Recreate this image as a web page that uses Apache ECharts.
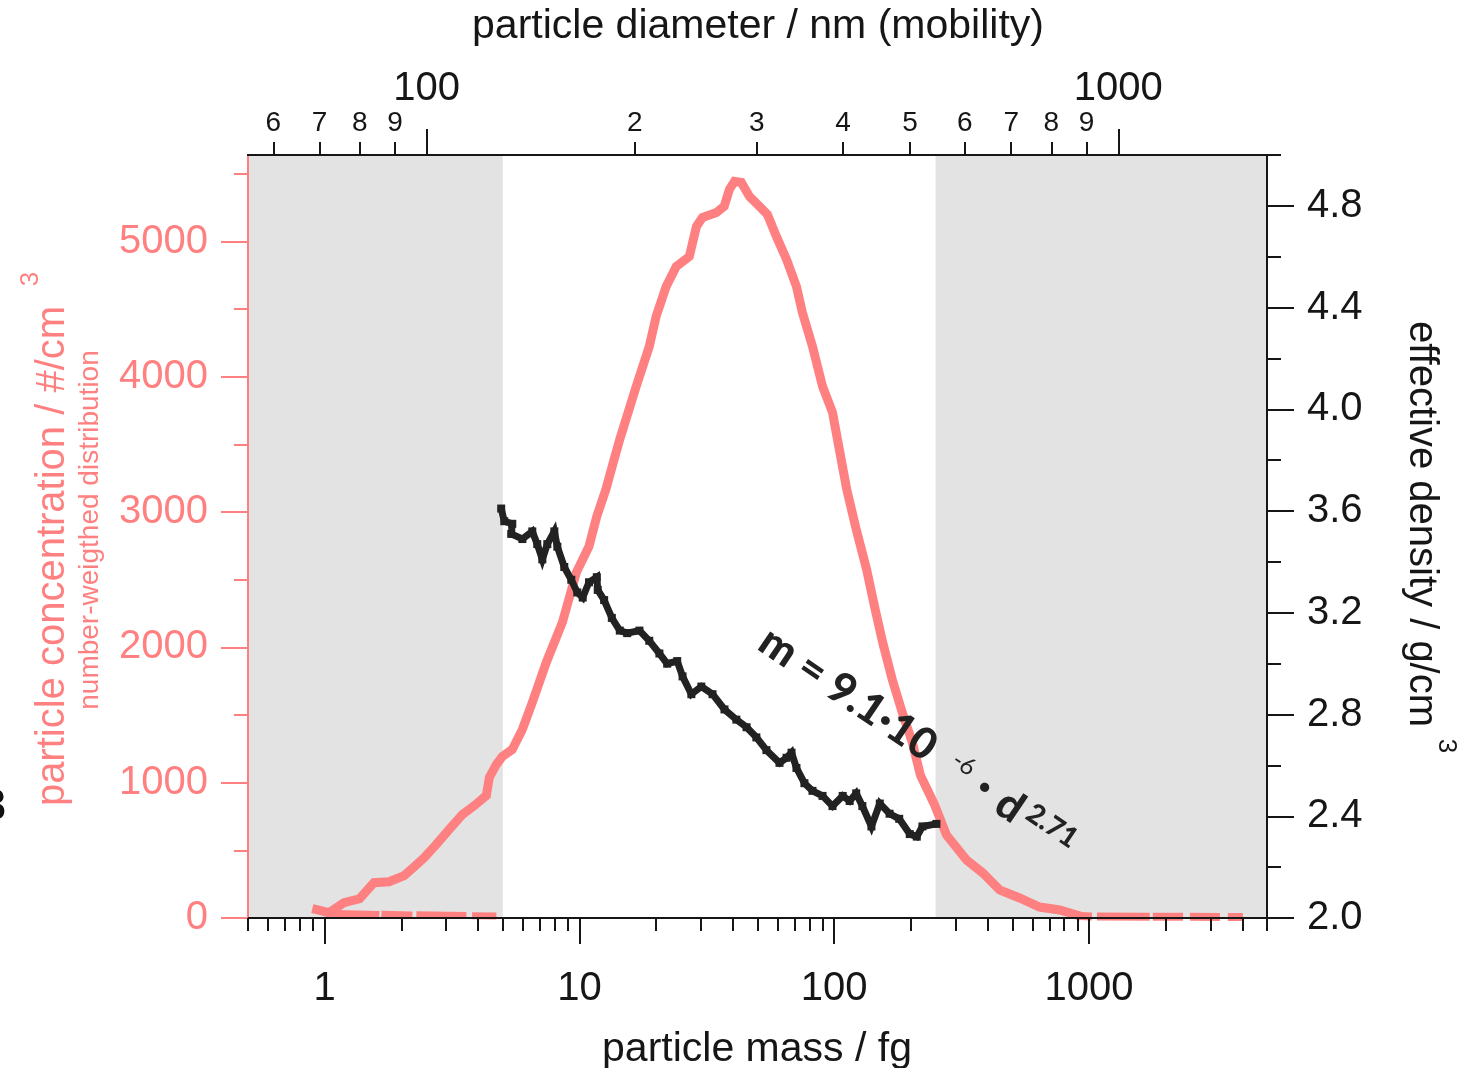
<!DOCTYPE html>
<html><head><meta charset="utf-8">
<script src="https://cdn.jsdelivr.net/npm/echarts@6/dist/echarts.min.js"></script>
<style>html,body{margin:0;padding:0;background:#fff}#c{width:1460px;height:1068px}</style>
</head><body><div id="c"></div>
<script>
// ---- axis ranges / ticks ----
const massRange = [0.5, 5000];            // fg (bottom axis)
const diamRange = [55.16, 1640.6];        // nm (top axis)
const concRange = [0, 5640];              // #/cm3 (left axis)
const densRange = [2.0, 5.0];             // g/cm3 (right axis)

const massMajorTicks = [1, 10, 100, 1000];
const massMinorTicks = [0.5,0.6,0.7,0.8,0.9, 2,3,4,5,6,7,8,9, 20,30,40,50,60,70,80,90, 200,300,400,500,600,700,800,900, 2000,3000,4000,5000];
const diamMajorTicks = [100, 1000];
const diamMinorTicks = [60,70,80,90, 200,300,400,500,600,700,800,900];
const concMajorTicks = [0,1000,2000,3000,4000,5000];
const concMinorTicks = [500,1500,2500,3500,4500,5500];
const densMajorTicks = [2.0,2.4,2.8,3.2,3.6,4.0,4.4,4.8];
const densMinorTicks = [2.2,2.6,3.0,3.4,3.8,4.2,4.6,5.0];

// shaded (excluded) mass ranges, fg
const shadedRanges = [[0.5, 5], [250, 5000]];

// ---- number-weighted distribution (pink) ----
const concMass = [0.93,1.04,1.19,1.37,1.56,1.79,2.05,2.25,2.46,2.74,3.08,3.47,3.87,4.31,4.43,4.72,4.98,5.45,5.97,6.53,7.41,8.57,9.73,10.9,11.7,12.7,13.5,14.4,16.7,18.8,20.0,21.9,24.0,27.0,28.8,30.4,34.5,37.0,38.8,40.6,43.2,46.5,50.9,54.7,59.3,65.0,71.1,75.0,82.2,90.0,98.5,103,112,122,134,144,155,169,185,203,218,248,276,331,383,446,534,640,767,895];
const concValues = [61,39,113,142,261,268,313,380,447,543,654,765,831,905,1039,1135,1194,1246,1394,1593,1889,2185,2555,2747,2969,3168,3350,3538,3929,4225,4447,4668,4816,4890,5112,5178,5215,5260,5386,5445,5437,5334,5260,5200,5038,4868,4668,4476,4225,3929,3737,3538,3168,2873,2577,2303,2037,1763,1519,1293,1055,835,613,429,333,207,148,81,59,22];
// near-zero tail at large mass (null = gap)
const tailMass   = [920,1027,1050,1075,1733,1760,1782,2340,2420,2490,3268,3400,3510,4020];
const tailValues = [14,12,null,12,10,null,10,9,null,9,8,null,8,7];
// near-zero branch at small mass (null = gap)
const lowMass   = [1.0,1.64,1.66,1.67,2.21,2.25,2.29,3.6,3.7,3.79,4.72];
const lowValues = [35,25,null,28,22,null,24,18,null,16,14];

// ---- effective density (black) ----
const densMass = [4.93,5.07,5.45,5.40,5.97,6.53,6.83,7.15,7.48,7.97,8.19,8.72,9.29,9.81,10.3,10.9,11.7,11.8,12.5,13.4,14.4,15.4,17.2,18.8,20.6,22.1,24.2,25.4,27.5,30.1,33.3,37.1,41.3,45.3,49.5,54.2,61.0,65.0,68.0,71.1,76.4,82.2,90.0,98.5,108,115,122,129,140,151,165,180,198,211,222,252];
const densValues = [3.61,3.56,3.55,3.51,3.49,3.52,3.47,3.41,3.47,3.52,3.46,3.38,3.33,3.28,3.26,3.32,3.34,3.29,3.25,3.18,3.13,3.12,3.13,3.09,3.04,3.00,3.01,2.95,2.88,2.91,2.88,2.82,2.78,2.75,2.71,2.66,2.61,2.63,2.65,2.59,2.53,2.50,2.48,2.44,2.48,2.46,2.49,2.44,2.36,2.45,2.41,2.39,2.33,2.32,2.36,2.37];

// ---- build ----
const L = Math.log10;
const PINK = '#ff8080', INK = '#161616';
const FONT = '"Liberation Sans", Arial, sans-serif';
const pair = (xs, ys) => xs.map((x, i) => [L(x), ys[i] == null ? '-' : ys[i]]);
const fmtPow = v => String(Math.round(Math.pow(10, v)));
const fmtMant = v => { const p = Math.pow(10, v); const e = Math.floor(v + 1e-9); return String(Math.round(p / Math.pow(10, e))); };

function xAx(pos, range, ticks, len, label) {
  return {
    type: 'value', position: pos, min: L(range[0]), max: L(range[1]), z: 10,
    axisLine: { show: true, onZero: false, lineStyle: { color: INK, width: 2 } },
    axisTick: { show: true, customValues: ticks.map(L), length: len, lineStyle: { color: INK, width: 2 } },
    axisLabel: label ? Object.assign({ customValues: ticks.map(L), color: INK, fontFamily: FONT }, label) : { show: false },
    splitLine: { show: false }
  };
}
function yAx(pos, range, ticks, len, color, label) {
  return {
    type: 'value', position: pos, min: range[0], max: range[1], z: 10,
    axisLine: { show: true, onZero: false, lineStyle: { color: color, width: 2 } },
    axisTick: { show: true, customValues: ticks, length: len, lineStyle: { color: color, width: 2 } },
    axisLabel: label ? Object.assign({ customValues: ticks, color: color, fontFamily: FONT }, label) : { show: false },
    splitLine: { show: false }
  };
}

const option = {
  animation: false,
  backgroundColor: '#fff',
  grid: { left: 248, right: 193, top: 155, bottom: 150, containLabel: false, outerBoundsMode: 'none' },
  xAxis: [
    xAx('bottom', massRange, massMinorTicks, 13, null),
    xAx('bottom', massRange, massMajorTicks, 26, { fontSize: 40, margin: 51, formatter: fmtPow }),
    xAx('top', diamRange, diamMinorTicks, 13, { fontSize: 28, margin: 18, formatter: fmtMant }),
    xAx('top', diamRange, diamMajorTicks, 26, { fontSize: 40, margin: 46, formatter: fmtPow })
  ],
  yAxis: [
    yAx('left', concRange, concMajorTicks, 27, PINK, { fontSize: 40, margin: 40, formatter: v => String(v) }),
    yAx('left', concRange, concMinorTicks, 14, PINK, null),
    yAx('right', densRange, densMajorTicks, 27, INK, { fontSize: 40, margin: 40, formatter: v => v.toFixed(1) }),
    yAx('right', densRange, densMinorTicks, 14, INK, null)
  ],
  series: [
    {
      type: 'line', xAxisIndex: 0, yAxisIndex: 0, z: 1, silent: true,
      data: [[L(massRange[0]), 0]], showSymbol: false, lineStyle: { opacity: 0 },
      markArea: {
        silent: true, itemStyle: { color: '#e3e3e3' },
        data: shadedRanges.map(r => [{ xAxis: L(r[0]) }, { xAxis: L(r[1]) }])
      }
    },
    {
      type: 'line', xAxisIndex: 0, yAxisIndex: 0, z: 3, showSymbol: false, connectNulls: false,
      data: pair(concMass, concValues),
      lineStyle: { color: PINK, width: 9, join: 'miter', cap: 'square' }
    },
    {
      type: 'line', xAxisIndex: 0, yAxisIndex: 0, z: 3, showSymbol: false, connectNulls: false,
      data: pair(tailMass, tailValues),
      lineStyle: { color: PINK, width: 8, join: 'miter', cap: 'butt' }
    },
    {
      type: 'line', xAxisIndex: 0, yAxisIndex: 0, z: 3, showSymbol: false, connectNulls: false,
      data: pair(lowMass, lowValues),
      lineStyle: { color: PINK, width: 7, join: 'miter', cap: 'butt' }
    },
    {
      type: 'line', xAxisIndex: 0, yAxisIndex: 2, z: 4, showSymbol: true, symbol: 'rect', symbolSize: 8,
      itemStyle: { color: '#222' },
      data: pair(densMass, densValues),
      lineStyle: { color: '#222', width: 7, join: 'miter' }
    }
  ],
  graphic: [
    { type: 'text', x: 758, y: 27, style: { text: 'particle diameter / nm (mobility)', font: '41px ' + FONT, fill: INK, align: 'center', verticalAlign: 'middle' } },
    { type: 'text', x: 757, y: 1050, style: { text: 'particle mass / fg', font: '41px ' + FONT, fill: INK, align: 'center', verticalAlign: 'middle' } },
    { type: 'text', x: 53, y: 556, rotation: Math.PI / 2, style: { text: 'particle concentration / #/cm', font: '40px ' + FONT, fill: PINK, align: 'center', verticalAlign: 'middle' } },
    { type: 'text', x: 31, y: 279, rotation: Math.PI / 2, style: { text: '3', font: '26px ' + FONT, fill: PINK, align: 'center', verticalAlign: 'middle' } },
    { type: 'text', x: 90, y: 530, rotation: Math.PI / 2, style: { text: 'number-weigthed distribution', font: '28px ' + FONT, fill: PINK, align: 'center', verticalAlign: 'middle' } },
    { type: 'text', x: 1421, y: 524, rotation: -Math.PI / 2, style: { text: 'effective density / g/cm', font: '40px ' + FONT, fill: INK, align: 'center', verticalAlign: 'middle' } },
    { type: 'text', x: 1446, y: 746, rotation: -Math.PI / 2, style: { text: '3', font: '26px ' + FONT, fill: INK, align: 'center', verticalAlign: 'middle' } },
    // cropped glyph at the left edge
    { type: 'text', x: 6, y: 808, style: { text: '3', font: 'bold 44px ' + FONT, fill: '#111', align: 'right', verticalAlign: 'middle' } },
    // annotation
    { type: 'text', x: 848, y: 694, rotation: -34 * Math.PI / 180, z: 20, style: { text: 'm = 9.1·10', font: '900 43px Lato, "Open Sans", sans-serif', fill: '#222', align: 'center', verticalAlign: 'middle' } },
    { type: 'text', x: 964, y: 764, rotation: -34 * Math.PI / 180, z: 20, style: { text: '-6', font: '24px Lato, sans-serif', fill: '#222', align: 'center', verticalAlign: 'middle' } },
    { type: 'text', x: 985, y: 787, rotation: -34 * Math.PI / 180, z: 20, style: { text: '•', font: '900 20px Lato, sans-serif', fill: '#222', align: 'center', verticalAlign: 'middle' } },
    { type: 'text', x: 1010, y: 806, rotation: -34 * Math.PI / 180, z: 20, style: { text: 'd', font: '900 43px Lato, sans-serif', fill: '#222', align: 'center', verticalAlign: 'middle' } },
    { type: 'text', x: 1052, y: 826, rotation: -34 * Math.PI / 180, z: 20, style: { text: '2.71', font: '900 28px Lato, sans-serif', fill: '#222', align: 'center', verticalAlign: 'middle' } }
  ]
};
const chart = echarts.init(document.getElementById('c'), null, { renderer: 'canvas' });
chart.setOption(option);
</script></body></html>
